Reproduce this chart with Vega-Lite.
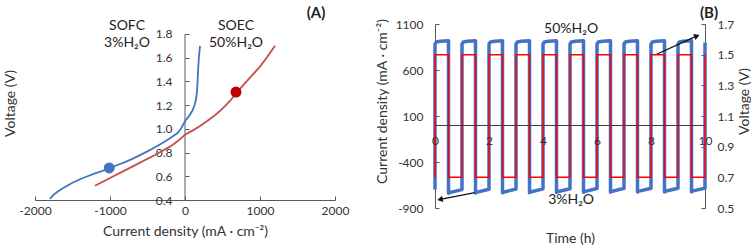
{
  "$schema": "https://vega.github.io/schema/vega-lite/v6.json",
  "padding": {"left": 3, "top": 5, "right": 0, "bottom": 0},
  "spacing": 26,
  "background": "white",
  "config": {
    "font": "Lato",
    "view": {"stroke": null},
    "axis": {"labelFont": "Lato", "titleFont": "Lato", "labelFontSize": 12, "titleFontSize": 14, "titleFontWeight": "normal", "labelColor": "#333333", "titleColor": "#333333", "domainColor": "#595959", "tickColor": "#595959", "grid": false},
    "text": {"font": "Lato"}
  },
  "datasets": {
    "sofc": [
      {"j": -1800, "v": 0.41}, {"j": -1750, "v": 0.445}, {"j": -1700, "v": 0.47}, {"j": -1650, "v": 0.49}, {"j": -1600, "v": 0.51},
      {"j": -1500, "v": 0.545}, {"j": -1400, "v": 0.575}, {"j": -1300, "v": 0.6}, {"j": -1200, "v": 0.625}, {"j": -1100, "v": 0.645},
      {"j": -1000, "v": 0.67}, {"j": -900, "v": 0.695}, {"j": -800, "v": 0.72}, {"j": -700, "v": 0.747}, {"j": -600, "v": 0.778},
      {"j": -500, "v": 0.81}, {"j": -400, "v": 0.845}, {"j": -300, "v": 0.88}, {"j": -200, "v": 0.92}, {"j": -100, "v": 0.965},
      {"j": -50, "v": 1.005}, {"j": 0, "v": 1.065}, {"j": 50, "v": 1.105}, {"j": 100, "v": 1.155}, {"j": 130, "v": 1.205},
      {"j": 150, "v": 1.26}, {"j": 160, "v": 1.32}, {"j": 168, "v": 1.4}, {"j": 175, "v": 1.5}, {"j": 185, "v": 1.6}, {"j": 200, "v": 1.7}
    ],
    "soec": [
      {"j": -1200, "v": 0.52}, {"j": -1000, "v": 0.585}, {"j": -800, "v": 0.65}, {"j": -600, "v": 0.715}, {"j": -400, "v": 0.78},
      {"j": -200, "v": 0.85}, {"j": -100, "v": 0.895}, {"j": 0, "v": 0.95}, {"j": 100, "v": 0.985}, {"j": 200, "v": 1.025},
      {"j": 300, "v": 1.068}, {"j": 400, "v": 1.115}, {"j": 500, "v": 1.17}, {"j": 600, "v": 1.235}, {"j": 680, "v": 1.3},
      {"j": 800, "v": 1.385}, {"j": 900, "v": 1.455}, {"j": 1000, "v": 1.525}, {"j": 1100, "v": 1.61}, {"j": 1200, "v": 1.7}
    ],
    "dots": [
      {"j": -1010, "v": 0.67, "cell": "SOFC"},
      {"j": 680, "v": 1.31, "cell": "SOEC"}
    ],
    "axisA": [
      {"j": 0, "v": 0.4, "v2": 1.8}
    ],
    "labelsA": [
      {"j": -773, "v": 1.867, "label": "SOFC"},
      {"j": -773, "v": 1.724, "label": "3%H₂O"},
      {"j": 680, "v": 1.867, "label": "SOEC"},
      {"j": 680, "v": 1.724, "label": "50%H₂O"}
    ],
    "panelA": [
      {"j": 1747, "v": 1.977, "label": "(A)"}
    ],
    "blue": [
      {"t": 0, "cd": -700},
      {"t": 0, "cd": 880}, {"t": 0.05, "cd": 905}, {"t": 0.2, "cd": 912}, {"t": 0.5, "cd": 918}, {"t": 0.5, "cd": -740}, {"t": 0.53, "cd": -733}, {"t": 1, "cd": -700},
      {"t": 1, "cd": 880}, {"t": 1.05, "cd": 905}, {"t": 1.2, "cd": 912}, {"t": 1.5, "cd": 918}, {"t": 1.5, "cd": -738}, {"t": 1.53, "cd": -730}, {"t": 2, "cd": -697},
      {"t": 2, "cd": 880}, {"t": 2.05, "cd": 905}, {"t": 2.2, "cd": 912}, {"t": 2.5, "cd": 918}, {"t": 2.5, "cd": -735}, {"t": 2.53, "cd": -728}, {"t": 3, "cd": -694},
      {"t": 3, "cd": 880}, {"t": 3.05, "cd": 905}, {"t": 3.2, "cd": 912}, {"t": 3.5, "cd": 918}, {"t": 3.5, "cd": -733}, {"t": 3.53, "cd": -726}, {"t": 4, "cd": -692},
      {"t": 4, "cd": 880}, {"t": 4.05, "cd": 905}, {"t": 4.2, "cd": 912}, {"t": 4.5, "cd": 918}, {"t": 4.5, "cd": -731}, {"t": 4.53, "cd": -724}, {"t": 5, "cd": -690},
      {"t": 5, "cd": 880}, {"t": 5.05, "cd": 905}, {"t": 5.2, "cd": 912}, {"t": 5.5, "cd": 918}, {"t": 5.5, "cd": -730}, {"t": 5.53, "cd": -722}, {"t": 6, "cd": -688},
      {"t": 6, "cd": 880}, {"t": 6.05, "cd": 905}, {"t": 6.2, "cd": 912}, {"t": 6.5, "cd": 918}, {"t": 6.5, "cd": -728}, {"t": 6.53, "cd": -720}, {"t": 7, "cd": -687},
      {"t": 7, "cd": 880}, {"t": 7.05, "cd": 905}, {"t": 7.2, "cd": 912}, {"t": 7.5, "cd": 918}, {"t": 7.5, "cd": -727}, {"t": 7.53, "cd": -719}, {"t": 8, "cd": -686},
      {"t": 8, "cd": 880}, {"t": 8.05, "cd": 905}, {"t": 8.2, "cd": 912}, {"t": 8.5, "cd": 918}, {"t": 8.5, "cd": -726}, {"t": 8.53, "cd": -718}, {"t": 9, "cd": -685},
      {"t": 9, "cd": 880}, {"t": 9.05, "cd": 905}, {"t": 9.2, "cd": 912}, {"t": 9.5, "cd": 918}, {"t": 9.5, "cd": -725}, {"t": 9.53, "cd": -717}, {"t": 10, "cd": -684},
      {"t": 10, "cd": 900}
    ],
    "red": [
      {"t": 0, "v": 0.7}, {"t": 0, "v": 1.5}, {"t": 0.5, "v": 1.5}, {"t": 0.5, "v": 0.7},
      {"t": 1, "v": 0.7}, {"t": 1, "v": 1.5}, {"t": 1.5, "v": 1.5}, {"t": 1.5, "v": 0.7},
      {"t": 2, "v": 0.7}, {"t": 2, "v": 1.5}, {"t": 2.5, "v": 1.5}, {"t": 2.5, "v": 0.7},
      {"t": 3, "v": 0.7}, {"t": 3, "v": 1.5}, {"t": 3.5, "v": 1.5}, {"t": 3.5, "v": 0.7},
      {"t": 4, "v": 0.7}, {"t": 4, "v": 1.5}, {"t": 4.5, "v": 1.5}, {"t": 4.5, "v": 0.7},
      {"t": 5, "v": 0.7}, {"t": 5, "v": 1.5}, {"t": 5.5, "v": 1.5}, {"t": 5.5, "v": 0.7},
      {"t": 6, "v": 0.7}, {"t": 6, "v": 1.5}, {"t": 6.5, "v": 1.5}, {"t": 6.5, "v": 0.7},
      {"t": 7, "v": 0.7}, {"t": 7, "v": 1.5}, {"t": 7.5, "v": 1.5}, {"t": 7.5, "v": 0.7},
      {"t": 8, "v": 0.7}, {"t": 8, "v": 1.5}, {"t": 8.5, "v": 1.5}, {"t": 8.5, "v": 0.7},
      {"t": 9, "v": 0.7}, {"t": 9, "v": 1.5}, {"t": 9.5, "v": 1.5}, {"t": 9.5, "v": 0.7},
      {"t": 10, "v": 0.7}, {"t": 10, "v": 1.5}
    ],
    "arrows": [
      {"t": 8.15, "cd": 763, "t2": 9.7, "cd2": 970},
      {"t": 1.48, "cd": -734, "t2": 0.185, "cd2": -806}
    ],
    "heads": [
      {"t": 9.7, "cd": 970, "which": "50%"},
      {"t": 0.185, "cd": -806, "which": "3%"}
    ],
    "labelsB": [
      {"t": 5.04, "cd": 1046, "label": "50%H₂O"},
      {"t": 5.04, "cd": -813, "label": "3%H₂O"}
    ],
    "panelB": [
      {"t": 10.15, "cd": 1220, "label": "(B)"}
    ]
  },
  "hconcat": [
    {
      "width": 300,
      "height": 176,
      "encoding": {
        "x": {"field": "j", "type": "quantitative", "scale": {"domain": [-2000, 2000]},
          "axis": {"title": "Current density (mA · cm⁻²)", "values": [-2000, -1000, 0, 1000, 2000], "format": "d", "labelExpr": "replace(datum.label, '−', '-')", "labelFlush": false, "tickSize": -4, "labelPadding": 9, "titleY": 31, "titleBaseline": "middle"}},
        "y": {"field": "v", "type": "quantitative", "scale": {"domain": [0.4, 1.8843]},
          "axis": {"title": "Voltage (V)", "values": [0.4, 0.6, 0.8, 1.0, 1.2, 1.4, 1.6, 1.8], "format": ".1f", "domain": false, "offset": -150, "tickSize": -4, "labelPadding": 17, "titleX": -175, "titleY": 79, "titleBaseline": "middle", "titleAngle": 270}}
      },
      "layer": [
        {"data": {"name": "axisA"}, "mark": {"type": "rule", "color": "#595959", "strokeWidth": 1},
          "encoding": {"y2": {"field": "v2"}}},
        {"data": {"name": "sofc"}, "mark": {"type": "line", "color": "#4472C4", "strokeWidth": 1.8}},
        {"data": {"name": "soec"}, "mark": {"type": "line", "color": "#C0504D", "strokeWidth": 1.8}},
        {"data": {"name": "dots"}, "mark": {"type": "circle", "size": 120, "opacity": 1},
          "encoding": {"color": {"field": "cell", "type": "nominal", "scale": {"domain": ["SOFC", "SOEC"], "range": ["#4472C4", "#C00000"]}, "legend": null}}},
        {"data": {"name": "labelsA"}, "mark": {"type": "text", "fontSize": 14, "color": "#222222"},
          "encoding": {"text": {"field": "label", "type": "nominal"}}},
        {"data": {"name": "panelA"}, "mark": {"type": "text", "fontSize": 15, "fontWeight": "bold", "color": "#222222"},
          "encoding": {"text": {"field": "label", "type": "nominal"}}}
      ]
    },
    {
      "width": 270,
      "height": 184,
      "encoding": {
        "x": {"field": "t", "type": "quantitative", "scale": {"domain": [0, 10]},
          "axis": {"title": "Time (h)", "values": [0, 2, 4, 6, 8, 10], "offset": -83, "ticks": false, "labelPadding": 10, "labelFlush": false, "titleY": 113, "titleBaseline": "middle", "domainColor": "#404040", "zindex": 1}}
      },
      "layer": [
        {
          "encoding": {
            "y": {"field": "cd", "type": "quantitative", "scale": {"domain": [-900, 1100]},
              "axis": {"title": "Current density (mA · cm⁻²)", "values": [-900, -400, 100, 600, 1100], "format": "d", "labelExpr": "replace(datum.label, '−', '-')", "tickSize": -4, "labelPadding": 16, "titleX": -53, "titleY": 77, "titleBaseline": "middle", "titleAngle": 270}}
          },
          "layer": [
            {"data": {"name": "blue"}, "mark": {"type": "line", "color": "#4472C4", "strokeWidth": 3.5, "strokeJoin": "round"},
              "encoding": {"order": {"value": null}}},
            {"data": {"name": "arrows"}, "mark": {"type": "rule", "color": "#111111", "strokeWidth": 1.3},
              "encoding": {"x2": {"field": "t2"}, "y2": {"field": "cd2"}}},
            {"data": {"name": "heads"}, "transform": [{"filter": "datum.which == '50%'"}],
              "mark": {"type": "point", "shape": "triangle-up", "filled": true, "color": "#111111", "size": 40, "angle": 68, "opacity": 1},
              "encoding": {}},
            {"data": {"name": "heads"}, "transform": [{"filter": "datum.which == '3%'"}],
              "mark": {"type": "point", "shape": "triangle-up", "filled": true, "color": "#111111", "size": 40, "angle": 258, "opacity": 1},
              "encoding": {}},
            {"data": {"name": "labelsB"}, "mark": {"type": "text", "fontSize": 14, "color": "#222222"},
              "encoding": {"text": {"field": "label", "type": "nominal"}}},
            {"data": {"name": "panelB"}, "mark": {"type": "text", "fontSize": 15, "fontWeight": "bold", "color": "#222222"},
              "encoding": {"text": {"field": "label", "type": "nominal"}}}
          ]
        },
        {
          "data": {"name": "red"},
          "mark": {"type": "line", "color": "#FF0000", "strokeWidth": 1.5},
          "encoding": {
            "y": {"field": "v", "type": "quantitative", "scale": {"domain": [0.5, 1.7]},
              "axis": {"orient": "right", "title": "Voltage (V)", "values": [0.5, 0.7, 0.9, 1.1, 1.3, 1.5, 1.7], "format": ".1f", "tickSize": -4, "labelPadding": 16, "titleX": 39, "titleY": 77, "titleBaseline": "middle", "titleAngle": 270}},
            "order": {"value": null}
          }
        }
      ],
      "resolve": {"scale": {"y": "independent"}}
    }
  ]
}
